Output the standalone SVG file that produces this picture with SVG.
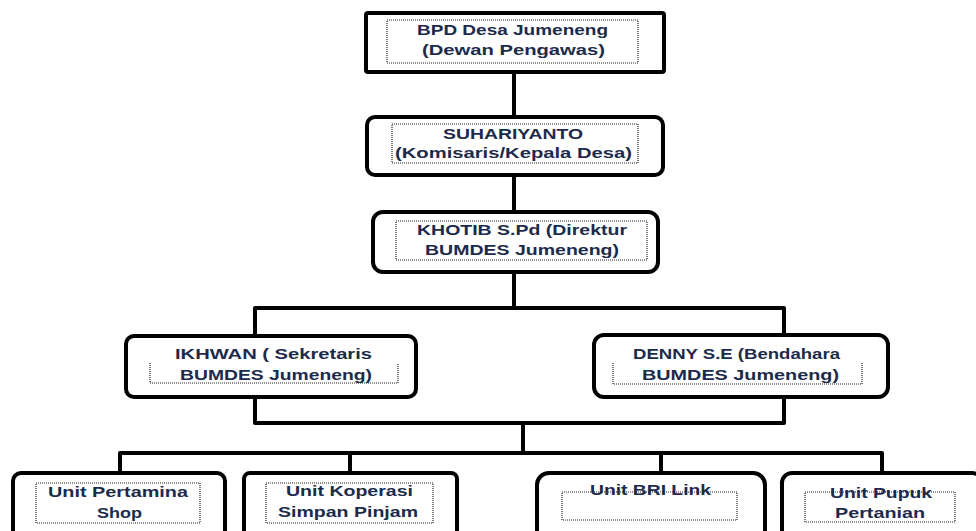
<svg xmlns="http://www.w3.org/2000/svg" width="976" height="531" viewBox="0 0 976 531">
<style>
.box{fill:#fff;stroke:#000;stroke-width:4}
.dot{fill:none;stroke:#222;stroke-width:1.2;stroke-dasharray:1 1}
.t{font-family:"Liberation Sans",Arial,sans-serif;font-weight:bold;font-size:15px;fill:#1c2b4c}
.c{fill:none;stroke:#000;stroke-width:4;stroke-linejoin:round}
</style>
<rect width="976" height="531" fill="#fff"/>
<g id="connectors">
<path class="c" d="M514,72 V117"/>
<path class="c" d="M514,175 V212"/>
<path class="c" d="M514,272 V308"/>
<path class="c" d="M255,336 V308 H784 V335"/>
<path class="c" d="M255,397 V423 H784 V397"/>
<path class="c" d="M523,423 V453"/>
<path class="c" d="M120,473 V453 H882 V473"/>
<path class="c" d="M350,453 V473"/>
<path class="c" d="M661,453 V473"/>
</g>
<g id="bpd">
<rect class="box" x="366" y="13" width="298" height="59" rx="2"/>
<rect class="dot" x="387" y="20" width="251" height="43"/>
<text class="t" x="417" y="35" textLength="191" lengthAdjust="spacingAndGlyphs">BPD Desa Jumeneng</text>
<text class="t" x="422" y="55" textLength="183" lengthAdjust="spacingAndGlyphs">(Dewan Pengawas)</text>
</g>
<g id="suhariyanto">
<rect class="box" x="367" y="117" width="296" height="58" rx="8"/>
<rect class="dot" x="392" y="124" width="246" height="39"/>
<text class="t" x="443" y="139" textLength="140" lengthAdjust="spacingAndGlyphs">SUHARIYANTO</text>
<text class="t" x="395" y="158" textLength="237" lengthAdjust="spacingAndGlyphs">(Komisaris/Kepala Desa)</text>
</g>
<g id="khotib">
<rect class="box" x="373" y="212" width="285" height="60" rx="10"/>
<rect class="dot" x="396" y="221" width="251" height="39"/>
<text class="t" x="417" y="235" textLength="210" lengthAdjust="spacingAndGlyphs">KHOTIB S.Pd (Direktur</text>
<text class="t" x="425" y="255" textLength="194" lengthAdjust="spacingAndGlyphs">BUMDES Jumeneng)</text>
</g>
<g id="ikhwan">
<rect class="box" x="126" y="336" width="290" height="61" rx="8"/>
<path class="dot" d="M150,363 V383 H398 V363"/>
<text class="t" x="175" y="359" textLength="197" lengthAdjust="spacingAndGlyphs">IKHWAN ( Sekretaris</text>
<text class="t" x="180" y="380" textLength="192" lengthAdjust="spacingAndGlyphs">BUMDES Jumeneng)</text>
</g>
<g id="denny">
<rect class="box" x="594" y="335" width="294" height="62" rx="10"/>
<path class="dot" d="M613,363 V384 H862 V363"/>
<text class="t" x="633" y="359" textLength="207" lengthAdjust="spacingAndGlyphs">DENNY S.E (Bendahara</text>
<text class="t" x="642" y="380" textLength="197" lengthAdjust="spacingAndGlyphs">BUMDES Jumeneng)</text>
</g>
<g id="pertamina">
<rect class="box" x="13" y="473" width="212" height="70" rx="8"/>
<rect class="dot" x="36" y="483" width="164" height="40"/>
<text class="t" x="48" y="497" textLength="140" lengthAdjust="spacingAndGlyphs">Unit Pertamina</text>
<text class="t" x="97" y="518" textLength="45" lengthAdjust="spacingAndGlyphs">Shop</text>
</g>
<g id="koperasi">
<rect class="box" x="244" y="473" width="213" height="70" rx="6"/>
<rect class="dot" x="266" y="483" width="167" height="40"/>
<text class="t" x="286" y="496" textLength="127" lengthAdjust="spacingAndGlyphs">Unit Koperasi</text>
<text class="t" x="278" y="517" textLength="140" lengthAdjust="spacingAndGlyphs">Simpan Pinjam</text>
</g>
<g id="brilink">
<rect class="box" x="537" y="473" width="228" height="70" rx="12"/>
<rect class="dot" x="562" y="492" width="175" height="28"/>
<text class="t" x="590" y="495" textLength="121" lengthAdjust="spacingAndGlyphs">Unit BRI Link</text>
</g>
<g id="pupuk">
<rect class="box" x="782" y="473" width="200" height="70" rx="10"/>
<rect class="dot" x="805" y="492" width="150" height="30"/>
<text class="t" x="830" y="498" textLength="102" lengthAdjust="spacingAndGlyphs">Unit Pupuk</text>
<text class="t" x="835" y="518" textLength="90" lengthAdjust="spacingAndGlyphs">Pertanian</text>
</g>
</svg>
